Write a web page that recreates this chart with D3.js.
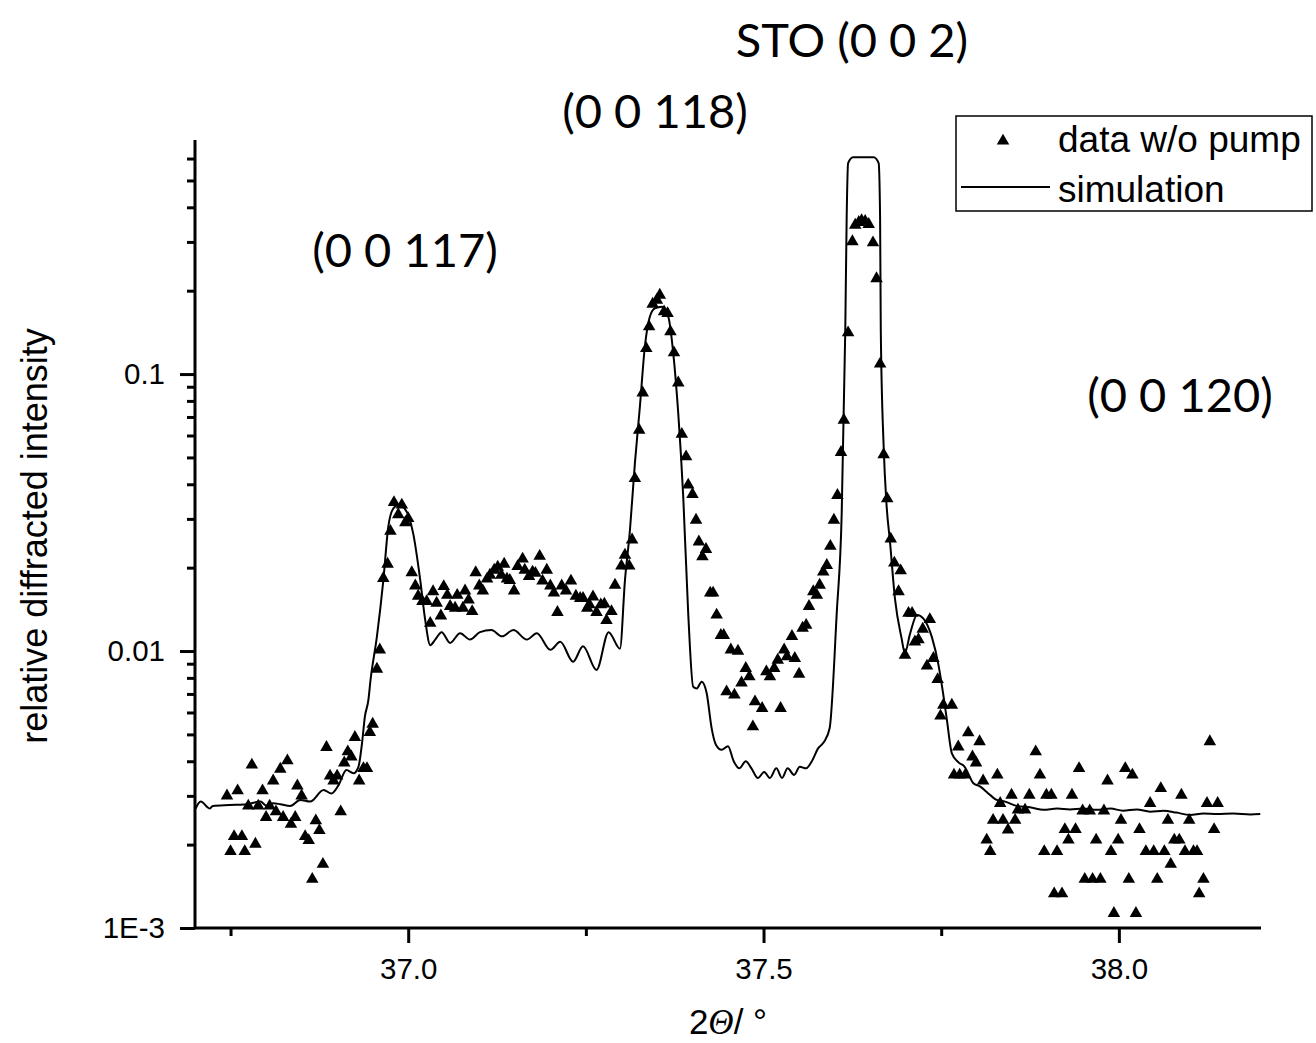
<!DOCTYPE html>
<html>
<head>
<meta charset="utf-8">
<script src="https://cdn.jsdelivr.net/npm/d3@7/dist/d3.min.js"></script>
<style>
  html, body { margin: 0; padding: 0; background: #fff; }
  svg { display: block; }
</style>
</head>
<body>
<svg id="chart" width="1316" height="1043"></svg>
<script>
// ---------------- data ----------------
const xMajorTicks = [37.0, 37.5, 38.0];
const xMinorTicks = [36.75, 37.25, 37.75];
const yMajorTicks = [0.001, 0.01, 0.1];
const yTickLabels = ["1E-3", "0.01", "0.1"];
const yMinorTicks = [0.002,0.003,0.004,0.005,0.006,0.007,0.008,0.009,
                     0.02,0.03,0.04,0.05,0.06,0.07,0.08,0.09,
                     0.2,0.3,0.4,0.5,0.6];
const peakLabels = ["STO (0 0 2)", "(0 0 118)", "(0 0 117)", "(0 0 120)"];
const seriesNames = ["data w/o pump", "simulation"];

// measured data: [2theta (deg), relative intensity]
const measured = [
[36.745,0.00300],[36.750,0.00189],[36.755,0.00214],[36.760,0.00313],[36.766,0.00214],[36.770,0.00189],[36.775,0.00276],[36.780,0.00388],[36.785,0.00201],[36.789,0.00276],
[36.795,0.00313],[36.800,0.00251],[36.805,0.00276],[36.810,0.00340],[36.814,0.00263],[36.820,0.00375],[36.824,0.00251],[36.830,0.00402],[36.835,0.00237],[36.841,0.00251],
[36.844,0.00326],[36.850,0.00300],[36.855,0.00214],[36.860,0.00207],[36.865,0.00150],[36.870,0.00244],[36.875,0.00225],[36.880,0.00170],[36.885,0.00449],[36.890,0.00354],
[36.895,0.00340],[36.900,0.00354],[36.905,0.00263],[36.910,0.00395],[36.915,0.00433],[36.920,0.00415],[36.925,0.00488],[36.931,0.00340],[36.937,0.00377],[36.942,0.00377],
[36.946,0.00509],[36.950,0.00545],[36.956,0.00861],[36.960,0.0101],[36.965,0.0183],[36.971,0.0206],[36.975,0.0271],[36.980,0.0344],[36.986,0.0311],[36.991,0.0337],
[36.996,0.0291],[37.000,0.0301],[37.005,0.0192],[37.010,0.0172],[37.014,0.0158],[37.020,0.0151],[37.026,0.0151],[37.031,0.0126],[37.035,0.0164],[37.040,0.0149],
[37.046,0.0134],[37.050,0.0171],[37.055,0.0159],[37.059,0.0145],[37.066,0.0143],[37.069,0.0159],[37.077,0.0143],[37.080,0.0165],[37.085,0.0153],[37.090,0.0139],
[37.095,0.0192],[37.100,0.0172],[37.105,0.0165],[37.111,0.0182],[37.115,0.0188],[37.121,0.0196],[37.126,0.0201],[37.131,0.0188],[37.135,0.0206],[37.139,0.0182],
[37.143,0.0180],[37.149,0.0165],[37.154,0.0202],[37.161,0.0215],[37.164,0.0196],[37.170,0.0186],[37.175,0.0193],[37.179,0.0191],[37.185,0.0220],[37.189,0.0179],
[37.195,0.0196],[37.200,0.0172],[37.205,0.0162],[37.210,0.0138],[37.216,0.0172],[37.222,0.0165],[37.229,0.0179],[37.236,0.0158],[37.242,0.0155],[37.246,0.0155],
[37.252,0.0143],[37.255,0.0147],[37.260,0.0157],[37.265,0.0138],[37.271,0.0147],[37.276,0.0148],[37.279,0.0129],[37.286,0.0139],[37.291,0.0173],[37.300,0.0203],
[37.305,0.0222],[37.311,0.0203],[37.315,0.0252],[37.319,0.0420],[37.325,0.0628],[37.330,0.0856],[37.335,0.1238],[37.339,0.1482],[37.344,0.1789],[37.350,0.1850],
[37.354,0.1929],[37.360,0.1679],[37.365,0.1656],[37.369,0.1422],[37.374,0.1194],[37.380,0.0930],[37.385,0.0607],[37.391,0.0503],[37.394,0.0398],[37.400,0.0368],
[37.405,0.0297],[37.409,0.0248],[37.414,0.0219],[37.419,0.0233],[37.425,0.0162],[37.429,0.0162],[37.434,0.0135],[37.440,0.0114],[37.444,0.0114],[37.448,0.00713],
[37.454,0.0101],[37.459,0.00694],[37.464,0.0100],[37.469,0.00768],[37.475,0.00866],[37.480,0.00808],[37.485,0.00533],[37.488,0.00656],[37.498,0.00621],[37.504,0.00842],
[37.509,0.00808],[37.515,0.00866],[37.520,0.00928],[37.524,0.00621],[37.529,0.0101],[37.533,0.00954],[37.540,0.0113],[37.544,0.00941],[37.550,0.00826],[37.555,0.0121],
[37.560,0.0124],[37.564,0.0145],[37.570,0.0164],[37.575,0.0159],[37.579,0.0173],[37.584,0.0193],[37.589,0.0204],[37.594,0.0239],[37.599,0.0297],[37.604,0.0365],
[37.609,0.0522],[37.613,0.0682],[37.619,0.1410],[37.625,0.3010],[37.629,0.3451],[37.634,0.3530],[37.638,0.3585],[37.643,0.3565],[37.648,0.3474],[37.654,0.2981],
[37.659,0.2212],[37.664,0.1088],[37.669,0.0512],[37.674,0.0355],[37.679,0.0254],[37.684,0.0208],[37.690,0.0164],[37.693,0.0195],[37.699,0.00967],[37.704,0.0137],
[37.709,0.0137],[37.713,0.0108],[37.718,0.0110],[37.724,0.0120],[37.730,0.00883],[37.734,0.0130],[37.739,0.00941],[37.745,0.00790],[37.749,0.00583],[37.753,0.00638],
[37.765,0.00638],[37.768,0.00357],[37.774,0.00451],[37.776,0.00357],[37.784,0.00357],[37.788,0.00507],[37.794,0.00415],[37.799,0.00395],[37.804,0.00471],[37.809,0.00340],
[37.814,0.00208],[37.819,0.00189],[37.823,0.00245],[37.829,0.00357],[37.833,0.00282],[37.837,0.00245],[37.844,0.00226],[37.849,0.00302],[37.854,0.00245],[37.858,0.00267],
[37.868,0.00267],[37.874,0.00302],[37.883,0.00433],[37.889,0.00357],[37.895,0.00189],[37.898,0.00302],[37.905,0.00302],[37.909,0.00133],[37.913,0.00189],[37.920,0.00133],
[37.924,0.00227],[37.929,0.00208],[37.934,0.00302],[37.939,0.00227],[37.944,0.00377],[37.949,0.00265],[37.952,0.00150],[37.959,0.00265],[37.963,0.00150],[37.968,0.00208],
[37.974,0.00150],[37.979,0.00265],[37.984,0.00340],[37.989,0.00189],[37.993,0.00113],[37.999,0.00208],[38.003,0.00245],[38.009,0.00377],[38.014,0.00150],[38.019,0.00357],
[38.024,0.00113],[38.029,0.00227],[38.038,0.00189],[38.044,0.00282],[38.049,0.00189],[38.054,0.00150],[38.059,0.00319],[38.064,0.00189],[38.069,0.00245],[38.073,0.00170],
[38.078,0.00208],[38.085,0.00208],[38.088,0.00302],[38.093,0.00189],[38.099,0.00245],[38.105,0.00189],[38.110,0.00189],[38.113,0.00133],[38.119,0.00150],[38.124,0.00282],
[38.128,0.00471],[38.134,0.00227],[38.139,0.00282]
];

// simulation curve: [2theta (deg), relative intensity]
const simulation = [
[36.701,0.00270],[36.708,0.00286],[36.721,0.00270],[36.725,0.00276],[36.749,0.00278],[36.773,0.00280],[36.792,0.00286],[36.801,0.00276],[36.810,0.00282],[36.820,0.00280],
[36.834,0.00276],[36.848,0.00290],[36.862,0.00286],[36.881,0.00315],[36.892,0.00306],[36.902,0.00328],[36.913,0.00372],[36.923,0.00362],[36.930,0.00382],[36.935,0.00464],
[36.939,0.00579],[36.944,0.00666],[36.947,0.00786],[36.956,0.0113],[36.965,0.0180],[36.972,0.0281],[36.979,0.0327],[36.986,0.0337],[36.995,0.0327],[37.007,0.0266],
[37.017,0.0180],[37.024,0.0129],[37.031,0.0105],[37.038,0.0110],[37.047,0.0117],[37.059,0.0107],[37.073,0.0116],[37.087,0.0110],[37.101,0.0117],[37.117,0.0119],
[37.132,0.0113],[37.148,0.0119],[37.167,0.0110],[37.181,0.0116],[37.200,0.0101],[37.214,0.0108],[37.232,0.00915],[37.246,0.0104],[37.265,0.00854],[37.282,0.0117],
[37.298,0.0102],[37.305,0.0180],[37.312,0.0273],[37.319,0.0477],[37.326,0.0762],[37.333,0.1255],[37.340,0.1610],[37.347,0.1727],[37.357,0.1750],[37.366,0.1610],
[37.373,0.1188],[37.380,0.0721],[37.387,0.0361],[37.394,0.0137],[37.401,0.00743],[37.406,0.00733],[37.413,0.00775],[37.420,0.00704],[37.427,0.00526],[37.433,0.00459],
[37.441,0.00440],[37.450,0.00453],[37.458,0.00400],[37.466,0.00377],[37.475,0.00400],[37.483,0.00377],[37.492,0.00348],[37.501,0.00366],[37.509,0.00348],[37.518,0.00377],
[37.526,0.00348],[37.534,0.00377],[37.543,0.00357],[37.551,0.00382],[37.560,0.00377],[37.568,0.00400],[37.577,0.00446],[37.585,0.00469],[37.593,0.00526],[37.603,0.0137],
[37.610,0.0314],[37.615,0.1430],[37.617,0.370],[37.619,0.578],[37.626,0.607],[37.655,0.607],[37.662,0.578],[37.664,0.370],[37.665,0.1430],[37.669,0.0550],
[37.673,0.0340],[37.678,0.0247],[37.685,0.0154],[37.694,0.0112],[37.699,0.00984],[37.706,0.0115],[37.716,0.0135],[37.725,0.0131],[37.737,0.0112],[37.746,0.00895],
[37.753,0.00694],[37.758,0.00564],[37.765,0.00427],[37.774,0.00397],[37.783,0.00382],[37.795,0.00334],[37.805,0.00324],[37.814,0.00310],[37.828,0.00290],[37.840,0.00286],
[37.856,0.00276],[37.875,0.00273],[37.894,0.00267],[37.913,0.00270],[37.931,0.00268],[37.950,0.00270],[37.969,0.00267],[37.988,0.00270],[38.006,0.00265],[38.025,0.00268],
[38.044,0.00263],[38.063,0.00265],[38.081,0.00261],[38.100,0.00256],[38.119,0.00259],[38.138,0.00258],[38.161,0.00259],[38.185,0.00257],[38.199,0.00258]
];

// ---------------- drawing ----------------
const svg = d3.select("#chart");
svg.append("rect").attr("width", 1316).attr("height", 1043).attr("fill", "#fff");

const x = d3.scaleLinear().domain([36.7, 38.2]).range([195, 1261]);
const y = d3.scaleLog().domain([0.001, 0.7]).range([928, 140]);

const axisFont = "'Liberation Sans', Arial, sans-serif";
const labelFont = "Lato, 'Open Sans', sans-serif";

// simulation line
const line = d3.line()
  .x(d => x(d[0])).y(d => y(d[1]))
  .curve(d3.curveMonotoneX);
svg.append("path")
  .datum(simulation)
  .attr("d", line)
  .attr("fill", "none")
  .attr("stroke", "#000")
  .attr("stroke-width", 2);

// measured triangles
const tri = d3.symbol().type(d3.symbolTriangle).size(68);
svg.append("g").selectAll("path")
  .data(measured)
  .join("path")
  .attr("d", tri)
  .attr("transform", d => `translate(${x(d[0])},${y(d[1])})`)
  .attr("fill", "#000");

// x axis
const gx = svg.append("g").attr("transform", "translate(0,928)");
gx.call(d3.axisBottom(x).tickValues(xMajorTicks).tickSize(15).tickSizeOuter(0)
  .tickFormat(d3.format(".1f")));
gx.append("g").call(d3.axisBottom(x).tickValues(xMinorTicks).tickSize(8).tickSizeOuter(0).tickFormat(""))
  .select(".domain").remove();
gx.selectAll(".domain").attr("stroke-width", 3).attr("d", "M195,0H1261");
gx.selectAll(".tick line").attr("stroke-width", 3);
gx.selectAll(".tick text").attr("font-family", axisFont).attr("font-size", 29.5)
  .attr("fill", "#000").attr("dy", null).attr("y", 51);

// y axis
const gy = svg.append("g").attr("transform", "translate(195,0)");
gy.call(d3.axisLeft(y).tickValues(yMajorTicks).tickSize(15).tickSizeOuter(0)
  .tickFormat((d, i) => yTickLabels[i]));
gy.append("g").call(d3.axisLeft(y).tickValues(yMinorTicks).tickSize(8).tickSizeOuter(0).tickFormat(""))
  .select(".domain").remove();
gy.selectAll(".domain").attr("stroke-width", 3).attr("d", "M0,140V928");
gy.selectAll(".tick line").attr("stroke-width", 3);
gy.selectAll(".tick text").attr("font-family", axisFont).attr("font-size", 29.5)
  .attr("fill", "#000").attr("x", -30);

// axis titles
svg.append("text")
  .attr("x", 728).attr("y", 1034)
  .attr("text-anchor", "middle")
  .attr("font-family", axisFont).attr("font-size", 35)
  .call(t => {
    t.append("tspan").text("2");
    t.append("tspan").attr("font-family", "'Liberation Serif', serif").attr("font-style", "italic").text("Θ");
    t.append("tspan").text("/ °");
  });
svg.append("text")
  .attr("transform", "translate(47,536) rotate(-90)")
  .attr("text-anchor", "middle")
  .attr("font-family", axisFont).attr("font-size", 36)
  .text("relative diffracted intensity");

// peak labels
const labelPos = [[852, 57], [655, 128], [405, 267], [1180, 412]];
svg.append("g").selectAll("text")
  .data(peakLabels)
  .join("text")
  .attr("x", (d, i) => labelPos[i][0])
  .attr("y", (d, i) => labelPos[i][1])
  .attr("text-anchor", "middle")
  .attr("font-family", labelFont)
  .attr("font-size", 47)
  .attr("fill", "#000")
  .text(d => d);

// legend
const lg = svg.append("g");
lg.append("rect").attr("x", 956).attr("y", 116).attr("width", 356).attr("height", 95)
  .attr("fill", "#fff").attr("stroke", "#000").attr("stroke-width", 1.5);
lg.append("path").attr("d", tri).attr("transform", "translate(1003,141)").attr("fill", "#000");
lg.append("line").attr("x1", 961).attr("x2", 1050).attr("y1", 187).attr("y2", 187)
  .attr("stroke", "#000").attr("stroke-width", 2);
lg.selectAll("text").data(seriesNames).join("text")
  .attr("x", 1058).attr("y", (d, i) => 152 + i * 50)
  .attr("font-family", axisFont).attr("font-size", 37).attr("fill", "#000")
  .text(d => d);
</script>
</body>
</html>
